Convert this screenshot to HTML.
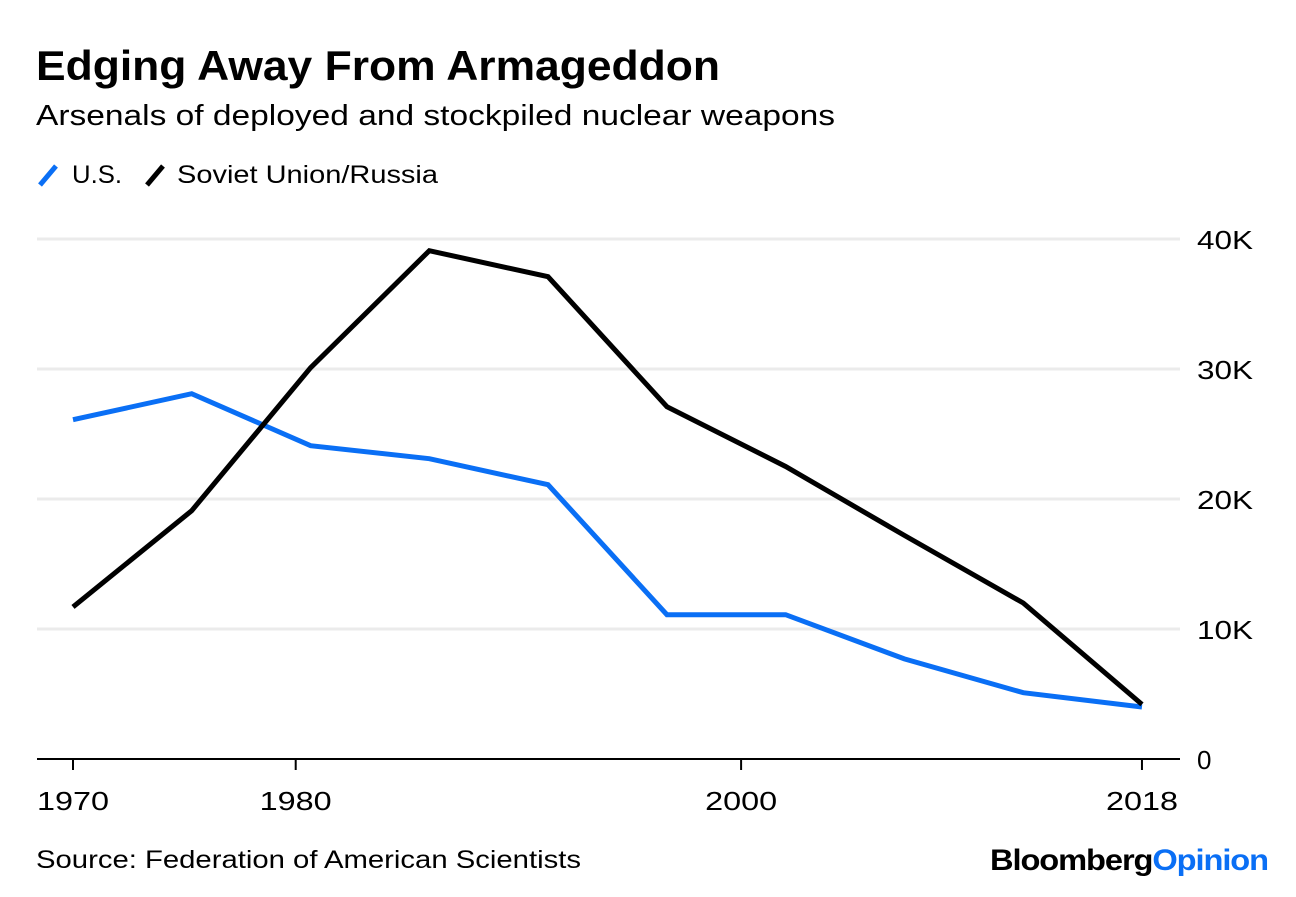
<!DOCTYPE html>
<html><head><meta charset="utf-8"><style>
body{margin:0;background:#fff;width:1296px;height:892px;overflow:hidden;font-family:"Liberation Sans",sans-serif}
</style></head><body>
<svg width="1296" height="892" xmlns="http://www.w3.org/2000/svg">
<text x="36" y="80" font-size="42" font-weight="bold" fill="#000" textLength="684" lengthAdjust="spacingAndGlyphs">Edging Away From Armageddon</text>
<text x="36" y="125" font-size="29" fill="#000" textLength="799" lengthAdjust="spacingAndGlyphs">Arsenals of deployed and stockpiled nuclear weapons</text>
<g>
<line x1="40" y1="185" x2="56" y2="166" stroke="#0a6ff5" stroke-width="5"/>
<text x="72" y="183" font-size="25" textLength="50" lengthAdjust="spacingAndGlyphs">U.S.</text>
<line x1="147" y1="185" x2="163" y2="166" stroke="#000" stroke-width="5"/>
<text x="177" y="183" font-size="25" textLength="261" lengthAdjust="spacingAndGlyphs">Soviet Union/Russia</text>
</g>
<g id="grid"></g><g id="xaxis"></g><g id="series"></g>
<text x="36" y="868" font-size="25" textLength="545" lengthAdjust="spacingAndGlyphs">Source: Federation of American Scientists</text>
<text x="990" y="870" font-size="30" font-weight="bold" textLength="278" lengthAdjust="spacingAndGlyphs" letter-spacing="-1">Bloomberg<tspan fill="#0a6ff5">Opinion</tspan></text>
</svg>
<script>
const years=[1970,1975.33,1980.67,1986,1991.33,1996.67,2002,2007.33,2012.67,2018];
const usValues=[26.1,28.1,24.1,23.1,21.1,11.1,11.1,7.7,5.1,4.0];
const russiaValues=[11.7,19.1,30.1,39.1,37.1,27.1,22.5,17.2,12.0,4.2];
const yTicks=[0,10,20,30,40];
const yTickLabels=["0","10K","20K","30K","40K"];
const xTicks=[1970,1980,2000,2018];
const NS="http://www.w3.org/2000/svg";
function xs(y){return 73+(y-1970)*22.27;}
function ys(v){return 759-v*13.0;}
function mk(t,a,p){const e=document.createElementNS(NS,t);for(const k in a)e.setAttribute(k,a[k]);p.appendChild(e);return e;}
const grid=document.getElementById('grid');
yTicks.forEach((v,i)=>{
  if(v>0){const l=mk('line',{x1:37,x2:1180,y1:ys(v),y2:ys(v),stroke:'#ebebeb','stroke-width':3},grid);
  
  }
  const a={x:1197,y:ys(v)+10,'font-size':26};
  if(v>0){a.textLength=56;a.lengthAdjust='spacingAndGlyphs';}
  const t=mk('text',a,grid);t.textContent=yTickLabels[i];
  
  
});
const xa=document.getElementById('xaxis');
const base=mk('line',{x1:37,x2:1180,y1:759,y2:759,stroke:'#000','stroke-width':2},xa);


xTicks.forEach(y=>{
  const tk=mk('line',{x1:xs(y),x2:xs(y),y1:759,y2:770,stroke:'#000','stroke-width':2},xa);
  
  
  const t=mk('text',{x:xs(y)-36,y:810,'font-size':26,textLength:72,lengthAdjust:'spacingAndGlyphs'},xa);t.textContent=y;
  
  
});
const s=document.getElementById('series');
function line(vals,color,name){
  const d=vals.map((v,i)=>(i?'L':'M')+xs(years[i])+','+ys(v)).join(' ');
  const p=mk('path',{d:d,fill:'none',stroke:color,'stroke-width':5,'stroke-linejoin':'miter'},s);
  
  
}
line(usValues,'#0a6ff5','us-line');
line(russiaValues,'#000','russia-line');
</script>
</body></html>
